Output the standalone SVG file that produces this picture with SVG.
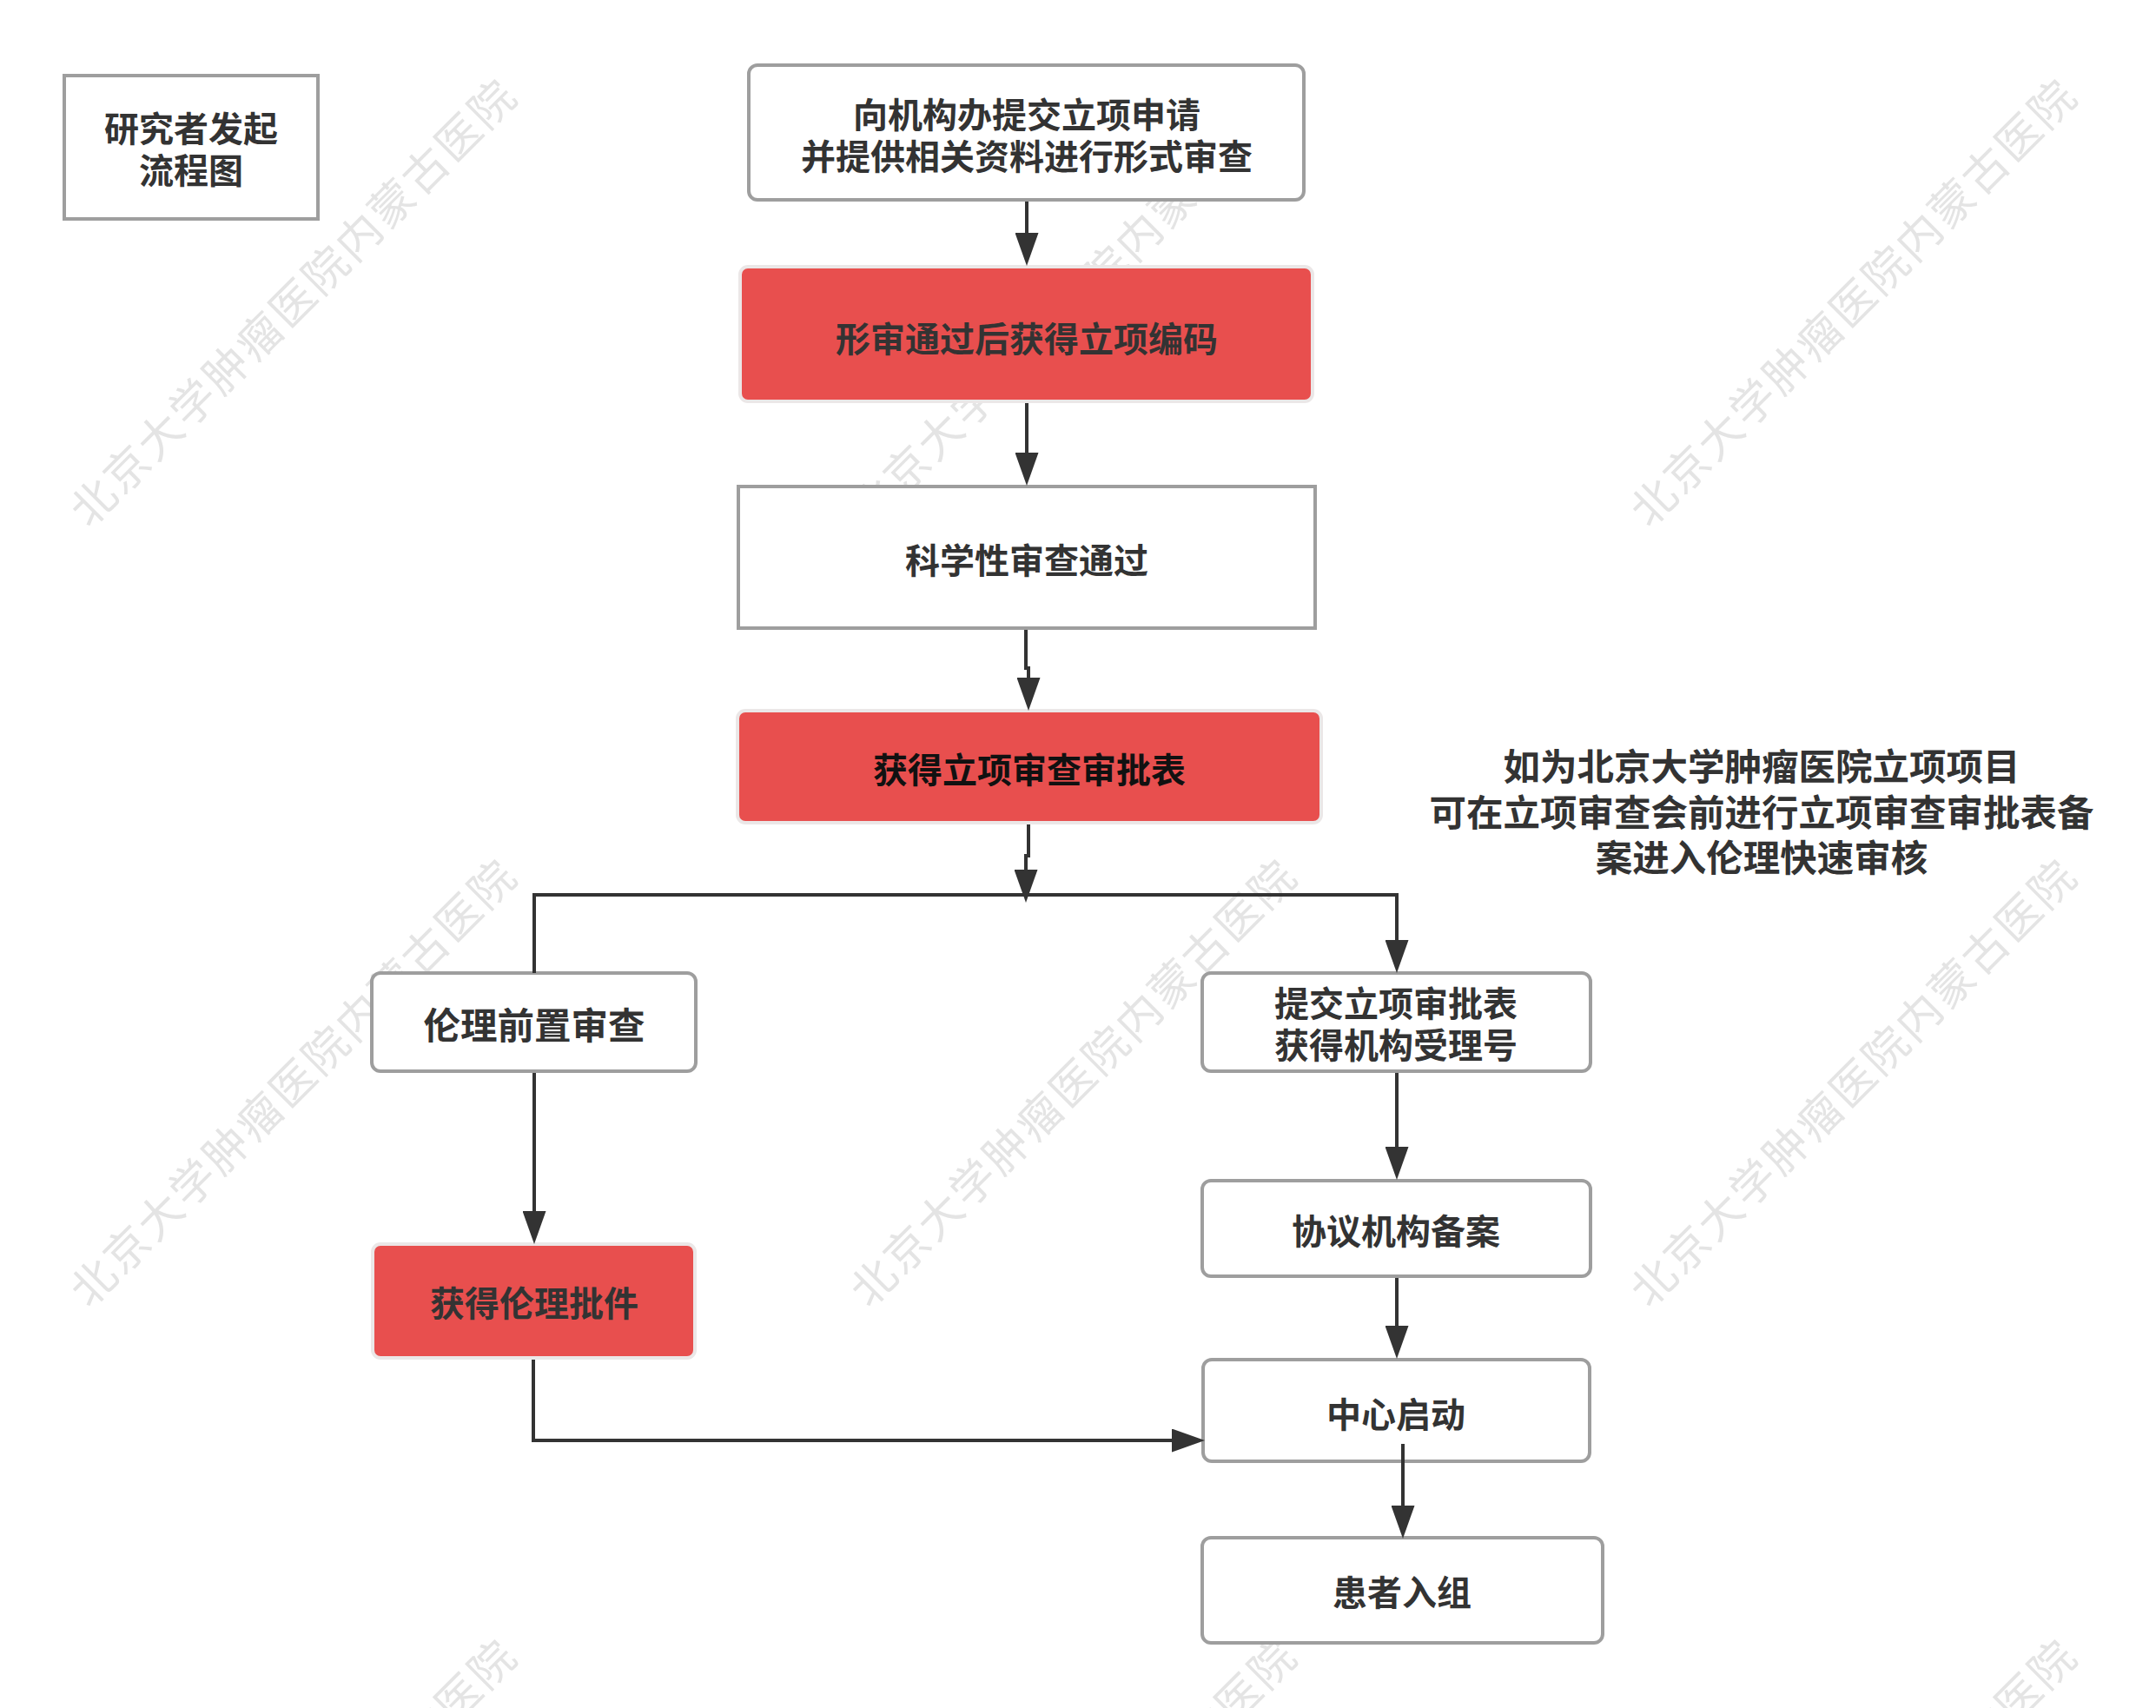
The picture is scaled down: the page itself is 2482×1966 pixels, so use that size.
<svg xmlns="http://www.w3.org/2000/svg" width="2482" height="1966" viewBox="0 0 2482 1966">
<defs>
<style>
.wm{font-family:'Liberation Sans','Noto Sans CJK SC',sans-serif;font-size:51px;fill:#e4e4e4;letter-spacing:3px;text-anchor:middle}
.box{fill:#ffffff;stroke:#9e9e9e;stroke-width:4}
.red{fill:#e84f4e;stroke:#ebe7e7;stroke-width:4}
.t{font-family:'Liberation Sans','Noto Sans CJK SC',sans-serif;font-weight:bold;font-size:40px;fill:#333333;text-anchor:middle}
.big{font-size:42.5px}
.dark{fill:#111111}
.c{fill:none;stroke:#333333;stroke-width:4}
</style>
<marker id="ah" markerUnits="userSpaceOnUse" markerWidth="38" markerHeight="27" viewBox="0 0 38 27" refX="8" refY="13.5" orient="auto">
<path d="M0,0 L38,13.5 L0,27 z" fill="#333333"/>
</marker>
</defs>
<rect width="2482" height="1966" fill="#ffffff"/>
<g id="watermarks">
<text class="wm" transform="translate(351,361) rotate(-45)">北京大学肿瘤医院内蒙古医院</text>
<text class="wm" transform="translate(1249,361) rotate(-45)">北京大学肿瘤医院内蒙古医院</text>
<text class="wm" transform="translate(2147,361) rotate(-45)">北京大学肿瘤医院内蒙古医院</text>
<text class="wm" transform="translate(351,1259) rotate(-45)">北京大学肿瘤医院内蒙古医院</text>
<text class="wm" transform="translate(1249,1259) rotate(-45)">北京大学肿瘤医院内蒙古医院</text>
<text class="wm" transform="translate(2147,1259) rotate(-45)">北京大学肿瘤医院内蒙古医院</text>
<text class="wm" transform="translate(351,2157) rotate(-45)">北京大学肿瘤医院内蒙古医院</text>
<text class="wm" transform="translate(1249,2157) rotate(-45)">北京大学肿瘤医院内蒙古医院</text>
<text class="wm" transform="translate(2147,2157) rotate(-45)">北京大学肿瘤医院内蒙古医院</text>
</g>
<g id="title">
<rect class="box" x="74" y="87" width="292" height="165"/>
<text class="t" x="220" y="163">研究者发起</text>
<text class="t" x="220" y="211">流程图</text>
</g>
<g id="n1">
<rect class="box" x="862" y="75" width="639" height="155" rx="10"/>
<text class="t" x="1182" y="147">向机构办提交立项申请</text>
<text class="t" x="1182" y="195">并提供相关资料进行形式审查</text>
</g>
<g id="n2">
<rect class="red" x="852" y="307" width="659" height="155" rx="9"/>
<text class="t" x="1182" y="405">形审通过后获得立项编码</text>
</g>
<g id="n3">
<rect class="box" x="850" y="560" width="664" height="163"/>
<text class="t" x="1182" y="660">科学性审查通过</text>
</g>
<g id="n4">
<rect class="red" x="849" y="818" width="672" height="129" rx="9"/>
<text class="t dark" x="1185" y="901">获得立项审查审批表</text>
</g>
<g id="note">
<text class="t big" x="2028" y="898">如为北京大学肿瘤医院立项项目</text>
<text class="t big" x="2028" y="951">可在立项审查会前进行立项审查审批表备</text>
<text class="t big" x="2028" y="1003">案进入伦理快速审核</text>
</g>
<g id="n5">
<rect class="box" x="428" y="1120" width="373" height="113" rx="10"/>
<text class="t big" x="615" y="1196">伦理前置审查</text>
</g>
<g id="n6">
<rect class="red" x="429" y="1432" width="371" height="131" rx="9"/>
<text class="t" x="615" y="1515">获得伦理批件</text>
</g>
<g id="n7">
<rect class="box" x="1384" y="1120" width="447" height="113" rx="10"/>
<text class="t" x="1607" y="1170">提交立项审批表</text>
<text class="t" x="1607" y="1218">获得机构受理号</text>
</g>
<g id="n8">
<rect class="box" x="1384" y="1359" width="447" height="110" rx="10"/>
<text class="t" x="1607" y="1432">协议机构备案</text>
</g>
<g id="n9">
<rect class="box" x="1385" y="1565" width="445" height="117" rx="10"/>
<text class="t" x="1607" y="1643">中心启动</text>
</g>
<g id="n10">
<rect class="box" x="1384" y="1770" width="461" height="121" rx="10"/>
<text class="t" x="1614" y="1848">患者入组</text>
</g>
<g id="connectors">
<path class="c" d="M1182 232 V276" marker-end="url(#ah)"/>
<path class="c" d="M1182 464 V529" marker-end="url(#ah)"/>
<path class="c" d="M1181 725 V769 H1184 V788" marker-end="url(#ah)"/>
<path class="c" d="M1184 949 V985 H1181 V1009" marker-end="url(#ah)"/>
<path class="c" d="M615 1120 V1030 H1608 V1090" marker-end="url(#ah)"/>
<path class="c" d="M615 1235 V1402" marker-end="url(#ah)"/>
<path class="c" d="M614 1565 V1658 H1357" marker-end="url(#ah)"/>
<path class="c" d="M1608 1235 V1328" marker-end="url(#ah)"/>
<path class="c" d="M1608 1471 V1534" marker-end="url(#ah)"/>
<path class="c" d="M1615 1662 V1741" marker-end="url(#ah)"/>
</g>
</svg>
